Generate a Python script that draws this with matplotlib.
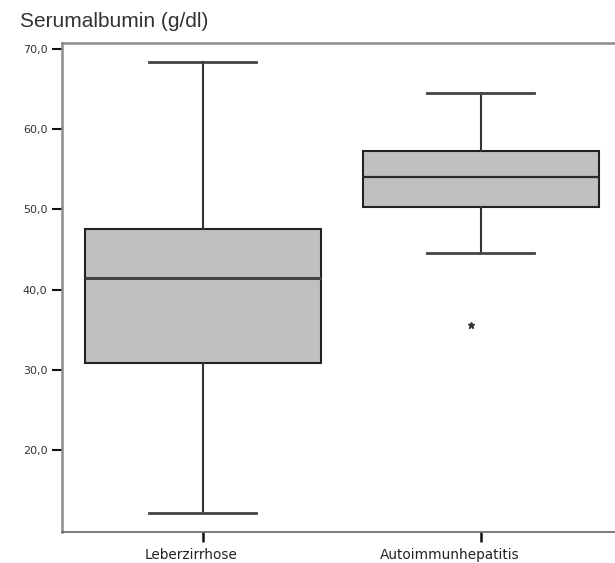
import matplotlib
matplotlib.use("Agg")
import matplotlib.pyplot as plt
from matplotlib.transforms import ScaledTranslation

# Serumalbumin nach Diagnosegruppe
gruppen = ["Leberzirrhose", "Autoimmunhepatitis"]
minimum = [12.1, 44.5]
q1 = [30.8, 50.3]
median = [41.4, 54.0]
q3 = [47.5, 57.3]
maximum = [68.4, 64.5]
ausreisser = [[], [35.6]]

yticks = [20, 30, 40, 50, 60, 70]
ytick_labels = ["20,0", "30,0", "40,0", "50,0", "60,0", "70,0"]

stats = []
for i, name in enumerate(gruppen):
    stats.append({
        "label": name,
        "whislo": minimum[i],
        "q1": q1[i],
        "med": median[i],
        "q3": q3[i],
        "whishi": maximum[i],
        "fliers": ausreisser[i],
    })

fig = plt.figure(figsize=(6.15, 5.63), dpi=100)
ax = fig.add_axes([0.1008, 0.0551, 0.8992, 0.8679])

bp = ax.bxp(
    stats,
    positions=[1, 2],
    widths=0.85,
    patch_artist=True,
    showfliers=True,
    capwidths=0.385,
    boxprops=dict(facecolor="#c0c0c0", edgecolor="#222222", linewidth=1.5),
    medianprops=dict(color="#444444", linewidth=2.2),
    whiskerprops=dict(color="#333333", linewidth=1.5),
    capprops=dict(color="#444444", linewidth=2.0),
    flierprops=dict(marker="*", markersize=5, markerfacecolor="#333333",
                    markeredgecolor="#333333"),
)
# rechter Median etwas feiner
bp["medians"][1].set_color("#2a2a2a")
bp["medians"][1].set_linewidth(1.6)
# Ausreissersymbol leicht links versetzt
bp["fliers"][1].set_transform(ax.transData + ScaledTranslation(-10 / 100, 0, fig.dpi_scale_trans))

ax.set_xlim(0.494, 2.483)
ax.set_ylim(9.78, 70.7)
ax.set_yticks(yticks)
ax.set_yticklabels(ytick_labels, fontsize=8, color="#333333")
ax.set_xticks([1, 2])
ax.set_xticklabels(gruppen, fontsize=9.8, color="#222222")

ax.tick_params(axis="y", direction="out", length=7, width=1.5, pad=3.5, colors="#111111",
               labelcolor="#333333")
ax.tick_params(axis="x", direction="out", length=7, width=1.8, pad=4.5, colors="#111111",
               labelcolor="#222222")

# Achsenbeschriftungen sitzen links von den Strichen
for lab, dx in zip(ax.get_xticklabels(), [-12, -31]):
    lab.set_transform(lab.get_transform() + ScaledTranslation(dx / 100, 0, fig.dpi_scale_trans))

ax.spines["right"].set_visible(False)
for side in ["left", "top"]:
    ax.spines[side].set_color("#8c8c8c")
    ax.spines[side].set_linewidth(1.8)
ax.spines["bottom"].set_color("#666666")
ax.spines["bottom"].set_linewidth(1.2)

fig.text(0.0325, 0.962, "Serumalbumin (g/dl)", fontsize=15, family="Liberation Sans",
         color="#333333", va="center", ha="left")

fig.savefig("out.png", dpi=100)
